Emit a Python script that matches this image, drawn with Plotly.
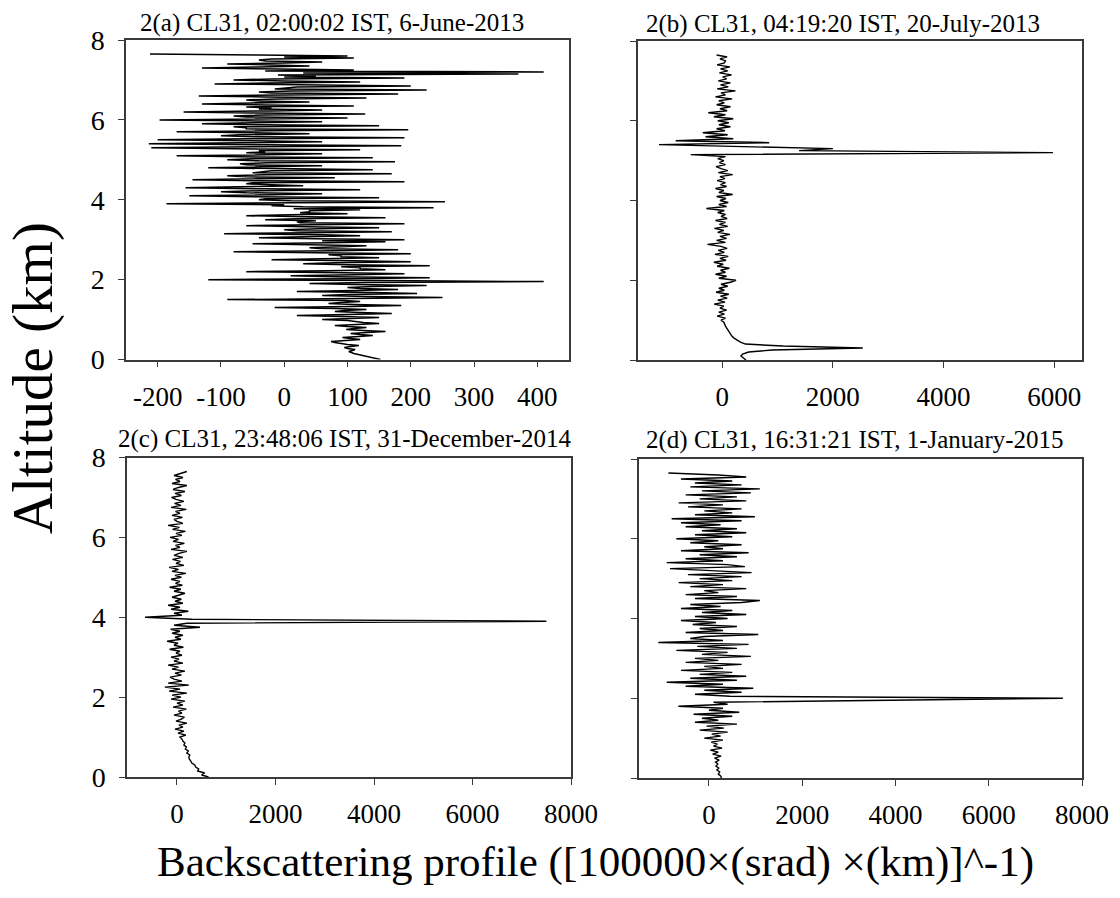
import plotly.graph_objects as go

# ---------------- data ----------------
# altitude grid (km), 0.05 km spacing, 0 .. 7.65 km
N_LEVELS = 154
ALT_STEP_KM = 0.05
ALT = [round(i * ALT_STEP_KM, 2) for i in range(N_LEVELS)]

# 2(a) 6-June-2013 : readings at the 0.05 km levels ...
BS_A = [
    152, 138, 120, 110, 102, 112, 95, 118, 85, 74,
    120, 92, 140, 105, 160, 98, 130, 80, 150, 110,
    60, 150, 20, 170, 80, 130, -15, 185, 70, 120,
    -90, 250, 60, 210, 20, 180, 100, 225, 40, 410,
    -120, 230, 10, 190, -60, 160, 120, 230, 30, 200,
    -20, 150, 90, 200, -80, 180, 40, 130, -50, 160,
    190, -40, 120, -95, 170, 0, 150, -60, 190, 20,
    -30, 160, -60, 100, 40, 120, 236, -20, -186, 254,
    -40, 150, -150, 60, -100, 120, -156, 30, -60, 190,
    -145, 80, -90, 170, -30, 140, -120, 60, -70, 175,
    -90, 140, -170, 60, -30, 120, -210, 185, -214, 60,
    -200, 190, -100, 40, -170, 196, -60, 150, -130, 60,
    -197, 100, -80, 128, -159, 60, -20, 110, -130, 40,
    -60, 130, -135, 180, -40, 225, 0, 200, -110, 120,
    -80, 190, 50, 370, 410, 110, -130, 40, -90, 60,
    -40, 110, 100, -212,
]
# ... and the dense core readings half-way between them (0.025 + 0.05 k km)
BS_A_MID = [
    145, 128, 115, 106, 108, 100, 105, 100, 80, 95,
    105, 118, 120, 130, 125, 110, 100, 115, 125, 100,
    110, 90, 100, 120, 95, 80, 105, 110, 90, 95,
    110, 130, 100, 140, 115, 120, 140, 110, 130, 150,
    100, 80, 110, 95, 70, 120, 90, 100, 80, 110,
    60, 90, 70, 50, 80, 60, 90, 40, 70, 60,
    50, 30, 60, 40, 20, 55, 35, 45, 25, 50,
    20, 35, 10, 25, 40, 15, 30, 0, 20, 10,
    -30, -50, -20, -60, -40, -30, -70, -20, -50, -40,
    -40, -60, -30, -50, -20, -45, -35, -60, -25, -40,
    -50, -70, -30, -60, -40, -80, -50, -30, -70, -50,
    -60, -40, -70, -50, -30, -60, -80, -40, -50, -60,
    -40, -60, -30, -50, -20, -40, -60, -30, -50, -40,
    -10, -30, 0, -20, 10, -15, 20, -5, -25, 0,
    -20, 0, -10, 30, -30, -10, -40, -20, 0, -30,
    -20, 0, -40,
]

# 2(b) 20-July-2013
BS_B = [
    430, 380, 340, 370, 480, 900, 2540, 1100, 420, 330,
    260, 215, 175, 150, 120, 95, 75, 60, 45, 30,
    -20, 60, -90, 40, -60, 80, -40, 30, -145, 50,
    -80, 90, -30, 120, -110, 40, -60, 100, -20, 150,
    250, -60, 80, -120, 60, -30, 130, -90, 20, -150,
    70, -40, 110, -130, 40, -70, 90, -20, -265, 60,
    -100, 80, -40, 140, -80, 30, -140, 100, -50, 60,
    -120, 90, -20, 60, -80, 40, -285, 80, -60, 110,
    -40, 70, -100, 190, -60, 30, -120, 80, -30, 60,
    -90, 50, -40, 190, -70, 100, -20, -110, 60, -50,
    30, -80, 60, -567, 5975, 1390, 2000, 300, -1140, 850,
    -840, 200, -300, 100, -350, 50, -100, 150, -60, 120,
    -80, 200, -150, 60, -250, 90, -40, 150, -100, 40,
    -60, 180, -120, 60, -20, 240, -90, 110, -30, 150,
    -70, 80, 10, 170, -50, 100, -30, 140, -90, 40,
    60, -40, 90, -100,
]

# 2(c) 31-December-2014
BS_C = [
    640, 500, 560, 420, 440, 380, 360, 300, 280, 250,
    240, 260, 200, 230, 170, 190, 140, 160, 120, 100,
    60, 180, 20, 140, -40, 120, 40, 200, -20, 90,
    150, -60, 100, 30, 190, -80, 120, 0, 160, -120,
    80, -100, 200, -160, 60, -245, 240, -180, 100, -60,
    -140, 90, -40, 160, -100, 30, -180, 120, -60, 40,
    -120, 100, -20, 60, -150, 130, -60, 20, -200, 80,
    -40, 120, -100, 60, -130, 467, -60, 200, 7500, 300,
    -650, 100, -60, 230, -120, 60, -180, 120, -40, 90,
    -100, 40, 160, -60, 80, -150, 110, -30, 60, -120,
    90, -40, 180, -100, 30, -160, 140, -20, 70, -90,
    120, -60, 40, 200, -120, 60, -30, 150, -80, 30,
    -140, 100, -20, 170, -90, 50, -180, 120, 0, -60,
    110, -100, 60, -30, 190, -120, 80, -50, 140, -20,
    -110, 90, -40, 160, -80, 30, 200, -100, 60, -30,
    120, -60, 80, 200,
]

# 2(d) 1-January-2015
BS_D = [
    270, 250, 200, 230, 170, 210, 150, 190, 140, 220,
    120, 260, 80, 200, 30, 280, 100, 180, 50, 300,
    -100, 250, 60, 400, -200, 320, -50, 600, -300, 200,
    -150, 500, -330, 650, 0, 300, -656, 400, 100, 4200,
    7590, 450, -300, 700, -100, 950, -500, 300, -907, 600,
    -400, 800, -200, 500, -600, 300, -100, 700, -500, 200,
    -300, 900, -150, 400, -700, 600, -250, 850, -1085, 300,
    -400, -100, 1057, -500, 300, -200, 600, -350, 150, -600,
    400, -300, 800, -150, 500, -600, 250, -400, 700, 1092,
    -300, 600, -500, 200, -100, 800, -400, 300, -650, 500,
    -200, 700, -450, 914, -100, -835, 771, 400, -907, 300,
    -500, 600, -200, 850, -600, 300, -100, 700, -400, 200,
    -700, 500, -300, 800, -150, 600, -500, 250, -600, 700,
    -800, 985, -300, 500, -100, 700, -450, 300, -650, 800,
    -200, 600, -500, 900, -150, 1092, -400, 700, -300, 500,
    -600, 800, 200, -870,
]

TITLES = [
    "2(a) CL31, 02:00:02 IST, 6-June-2013",
    "2(b) CL31, 04:19:20 IST, 20-July-2013",
    "2(c) CL31, 23:48:06 IST, 31-December-2014",
    "2(d) CL31, 16:31:21 IST, 1-January-2015",
]
X_TICKS_A = [-200, -100, 0, 100, 200, 300, 400]
X_TICKS_B = [0, 2000, 4000, 6000]
X_TICKS_CD = [0, 2000, 4000, 6000, 8000]
Y_TICKS = [0, 2, 4, 6, 8]
X_TITLE = "Backscattering profile ([100000×(srad) ×(km)]^-1)"
Y_TITLE = "Altitude (km)"

# panel (a): merge the two sets of readings in altitude order
ALT_A, VAL_A = [], []
for k in range(N_LEVELS):
    ALT_A.append(ALT[k]); VAL_A.append(BS_A[k])
    if k < len(BS_A_MID):
        ALT_A.append(round(ALT[k] + ALT_STEP_KM / 2, 3)); VAL_A.append(BS_A_MID[k])

# ---------------- figure ----------------
W, H = 1120, 898
FONT = "Liberation Serif, Times New Roman, serif"
AX_COL = "#3a3a3a"

fig = go.Figure()
series = [(VAL_A, ALT_A, 1.5), (BS_B, ALT, 1.4), (BS_C, ALT, 1.4), (BS_D, ALT, 1.4)]
for i, (xs, ys, lw) in enumerate(series):
    suffix = "" if i == 0 else str(i + 1)
    fig.add_trace(go.Scatter(
        x=xs, y=ys, mode="lines",
        line=dict(color="black", width=lw),
        xaxis="x" + suffix, yaxis="y" + suffix,
        showlegend=False, hoverinfo="skip",
    ))

def px_x(a, b):
    return [a / W, b / W]

def px_y(top, bottom):
    return [1 - bottom / H, 1 - top / H]

panels = [
    dict(xd=px_x(126, 569), yd=px_y(40, 359.5), xr=[-250, 450], xt=X_TICKS_A, ylab=True),
    dict(xd=px_x(638, 1082), yd=px_y(41, 360), xr=[-1520, 6500], xt=X_TICKS_B, ylab=False),
    dict(xd=px_x(127, 571), yd=px_y(457.5, 777), xr=[-1015, 8000], xt=X_TICKS_CD, ylab=True),
    dict(xd=px_x(639, 1082), yd=px_y(459, 778), xr=[-1500, 8000], xt=X_TICKS_CD, ylab=False),
]

layout = dict(
    width=W, height=H, autosize=False,
    margin=dict(l=0, r=0, t=0, b=0, pad=0),
    paper_bgcolor="white", plot_bgcolor="white",
    font=dict(family=FONT, color="black"),
    showlegend=False,
)

for i, p in enumerate(panels):
    suffix = "" if i == 0 else str(i + 1)
    layout["xaxis" + suffix] = dict(
        domain=p["xd"], range=p["xr"], anchor="y" + suffix, automargin=False,
        tickmode="array", tickvals=p["xt"], ticktext=[str(v) for v in p["xt"]],
        ticks="outside", ticklen=6, tickwidth=1.3, tickcolor=AX_COL,
        showline=True, linecolor=AX_COL, linewidth=1.5, mirror=True,
        showgrid=False, zeroline=False,
        tickfont=dict(family=FONT, size=27, color="black"),
        ticklabelstandoff=6,
    )
    layout["yaxis" + suffix] = dict(
        domain=p["yd"], range=[0, 8], anchor="x" + suffix, automargin=False,
        tickmode="array", tickvals=Y_TICKS, ticktext=[str(v) for v in Y_TICKS],
        showticklabels=p["ylab"],
        ticks="outside", ticklen=6, tickwidth=1.3, tickcolor=AX_COL,
        showline=True, linecolor=AX_COL, linewidth=1.5, mirror=True,
        showgrid=False, zeroline=False,
        tickfont=dict(family=FONT, size=28, color="black"),
        ticklabelstandoff=8,
    )

annotations = []
title_pos = [(332, 23), (843, 24), (345, 439), (855, 440)]
for t, (cx, cy) in zip(TITLES, title_pos):
    annotations.append(dict(
        text=t, x=cx / W, y=1 - cy / H, xref="paper", yref="paper",
        xanchor="center", yanchor="middle", showarrow=False,
        font=dict(family=FONT, size=25, color="black"),
    ))
annotations.append(dict(
    text=X_TITLE, x=595 / W, y=1 - 862 / H, xref="paper", yref="paper",
    xanchor="center", yanchor="middle", showarrow=False,
    font=dict(family=FONT, size=43, color="black"),
))
annotations.append(dict(
    text=Y_TITLE, x=33 / W, y=1 - 378 / H, xref="paper", yref="paper",
    xanchor="center", yanchor="middle", showarrow=False, textangle=-90,
    font=dict(family=FONT, size=57, color="black"),
))
layout["annotations"] = annotations

fig.update_layout(**layout)
fig.write_html("out.html")
